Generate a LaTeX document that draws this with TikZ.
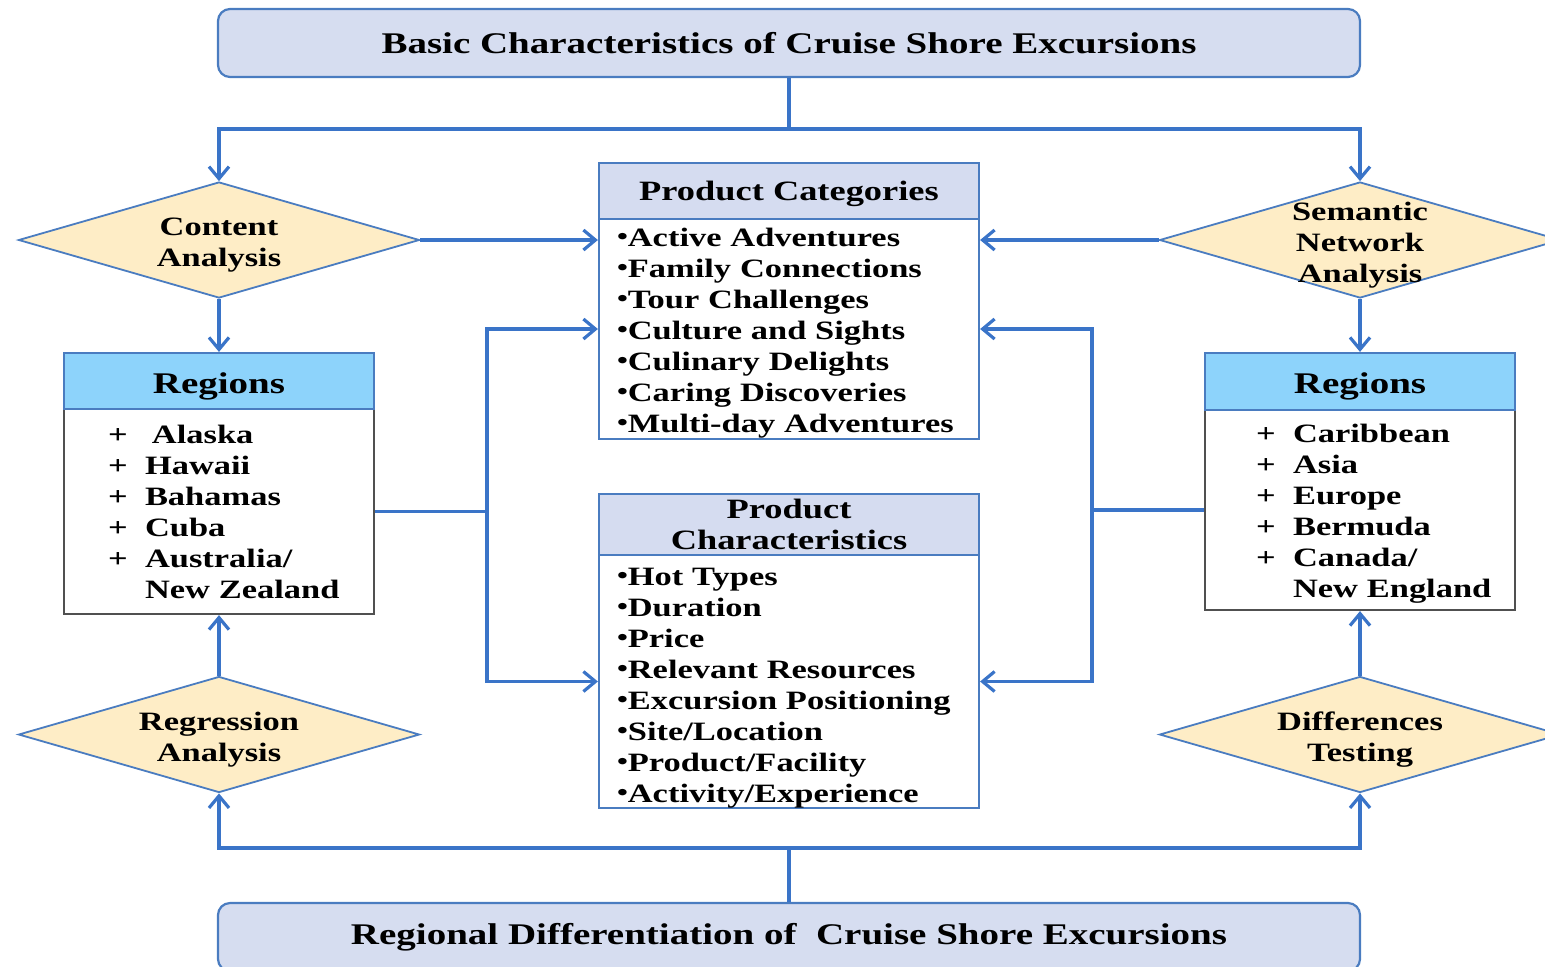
\documentclass[tikz,border=0pt]{standalone}
\usepackage{graphicx}
\usepackage{fontspec}
\setmainfont{Liberation Serif}[FakeStretch=1.3]
\usetikzlibrary{arrows.meta,shapes.geometric}

\definecolor{wire}{HTML}{3A74C8}
\definecolor{edgeblue}{HTML}{4A7CC0}
\definecolor{bannerfill}{HTML}{D6DDF0}
\definecolor{headfill}{HTML}{D5DCF0}
\definecolor{skyfill}{HTML}{8DD3FB}
\definecolor{cream}{HTML}{FEEDC6}
\definecolor{listedge}{HTML}{505050}

\newcommand\pl{\makebox[18.5pt][l]{+}}
\newcommand\dotitem{\raisebox{0.6pt}{\scalebox{0.9}{•}}}
\newcommand\lowered[2]{\raisebox{-#1}[\height][\depth]{#2}}
% first-line strut: a taller first line moves the whole list down
\newcommand\topstrut[1]{\rule{0pt}{#1}}

\begin{document}
\begin{tikzpicture}[x=0.5pt,y=-0.5pt,
  txt/.style={font=\bfseries\fontsize{13.25}{15.5}\selectfont},
  banner/.style={draw=edgeblue, line width=1.1pt, fill=bannerfill, rounded corners=6pt,
    minimum width=571pt, minimum height=34pt, inner sep=0pt,
    font=\bfseries\fontsize{15}{18}\selectfont},
  decision/.style={diamond, draw=edgeblue, line width=0.9pt, fill=cream,
    minimum width=200.5pt, minimum height=58pt, inner sep=0pt},
  dlabel/.style={txt, align=center, inner sep=0pt, yshift=-2.5pt},
  phead/.style={draw=edgeblue, line width=1.1pt, fill=headfill, minimum width=190pt,
    inner sep=0pt, align=center, font=\bfseries\fontsize{14}{15.5}\selectfont},
  pbody/.style={txt, draw=edgeblue, line width=1.1pt, fill=white, minimum width=190pt,
    text width=172pt, inner xsep=9pt, inner ysep=0pt, align=left},
  rhead/.style={draw=edgeblue, line width=1.1pt, fill=skyfill, minimum width=155pt,
    inner sep=0pt, font=\bfseries\fontsize{15}{18}\selectfont},
  rbody/.style={txt, draw=listedge, line width=1.1pt, fill=white, minimum width=155pt,
    text width=111pt, inner xsep=22pt, inner ysep=0pt, align=left},
  wire/.style={draw=wire, line width=1.6pt},
  arr/.style={wire, -{Straight Barb[length=6pt,width=10pt]}}
]
\useasboundingbox (0,0) rectangle (1545,966);

% banners
\node[banner] (top) at (789,43) {Basic Characteristics of Cruise Shore Excursions};
\node[banner] (bot) at (789,937) {Regional Differentiation of \ Cruise Shore Excursions};

% method diamonds
\node[decision, label={[dlabel]center:Content\\Analysis}] (ca) at (219,240) {};
\node[decision, label={[dlabel]center:Semantic\\Network\\Analysis}] (sn) at (1360,240) {};
\node[decision, label={[dlabel]center:Regression\\Analysis}] (ra) at (219,734.5) {};
\node[decision, label={[dlabel]center:Differences\\Testing}] (dt) at (1360,734.5) {};

% product categories
\node[pbody, minimum height=110pt] (pcB) at (789,329) {%
  \mbox{\topstrut{13pt}\dotitem Active Adventures}\\
  \mbox{\dotitem Family Connections}\\
  \mbox{\dotitem Tour Challenges}\\
  \mbox{\dotitem Culture and Sights}\\
  \mbox{\dotitem Culinary Delights}\\
  \mbox{\dotitem Caring Discoveries}\\
  \mbox{\dotitem Multi-day Adventures}};
\node[phead, minimum height=28pt] (pcH) at (789,191) {\lowered{1.5pt}{Product Categories}};

% product characteristics
\node[pbody, minimum height=126.5pt] (pchB) at (789,681.5) {%
  \mbox{\topstrut{15pt}\dotitem Hot Types}\\
  \mbox{\dotitem Duration}\\
  \mbox{\dotitem Price}\\
  \mbox{\dotitem Relevant Resources}\\
  \mbox{\dotitem Excursion Positioning}\\
  \mbox{\dotitem Site/Location}\\
  \mbox{\dotitem Product/Facility}\\
  \mbox{\dotitem Activity/Experience}};
\node[phead, minimum height=30.5pt] (pchH) at (789,524.5) {Product\\Characteristics};

% regions, left
\node[rbody, minimum height=102.5pt] (lrB) at (219,511.5) {%
  \mbox{\pl\hspace{3.5pt}Alaska}\\
  \mbox{\pl Hawaii}\\
  \mbox{\pl Bahamas}\\
  \mbox{\pl Cuba}\\
  \mbox{\pl Australia/}\\
  \mbox{\hspace{18.5pt}New Zealand}};
\node[rhead, minimum height=28pt] (lrH) at (219,381) {\lowered{2.5pt}{Regions}};

% regions, right
\node[rbody, minimum height=100pt, inner xsep=25.5pt, text width=104pt] (rrB) at (1360,510) {%
  \mbox{\topstrut{13pt}\pl Caribbean}\\
  \mbox{\pl Asia}\\
  \mbox{\pl Europe}\\
  \mbox{\pl Bermuda}\\
  \mbox{\pl Canada/}\\
  \mbox{\hspace{18.5pt}New England}};
\node[rhead, minimum height=28.5pt] (rrH) at (1360,381.5) {\lowered{2.5pt}{Regions}};

% top distribution
\coordinate (tj) at (789,129);
\draw[wire] (top.south) -- (tj);
\draw[arr] (tj) -| (ca.north);
\draw[arr] (tj) -| (sn.north);

% bottom distribution
\coordinate (bj) at (789,848);
\draw[wire] (bot.north) -- (bj);
\draw[arr] (bj) -| (ra.south);
\draw[arr] (bj) -| (dt.south);

% diamonds to regions
\draw[arr] (ca.south) -- (lrH.north);
\draw[arr] (sn.south) -- (rrH.north);
\draw[arr] (ra.north) -- (lrB.south);
\draw[arr] (dt.north) -- (rrB.south);

% diamonds to categories
\draw[arr] (ca.east) -- (ca.east -| pcB.west);
\draw[arr] (sn.west) -- (sn.west -| pcB.east);

% regions to product boxes
\coordinate (lj) at (487,511.5);
\draw[wire] (lrB.east) -- (lj);
\draw[arr] (lj) |- (pcB.west);
\draw[arr] (lj) |- (pchB.west);

\coordinate (rj) at (1092,510);
\draw[wire] (rrB.west) -- (rj);
\draw[arr] (rj) |- (pcB.east);
\draw[arr] (rj) |- (pchB.east);
\end{tikzpicture}
\end{document}
